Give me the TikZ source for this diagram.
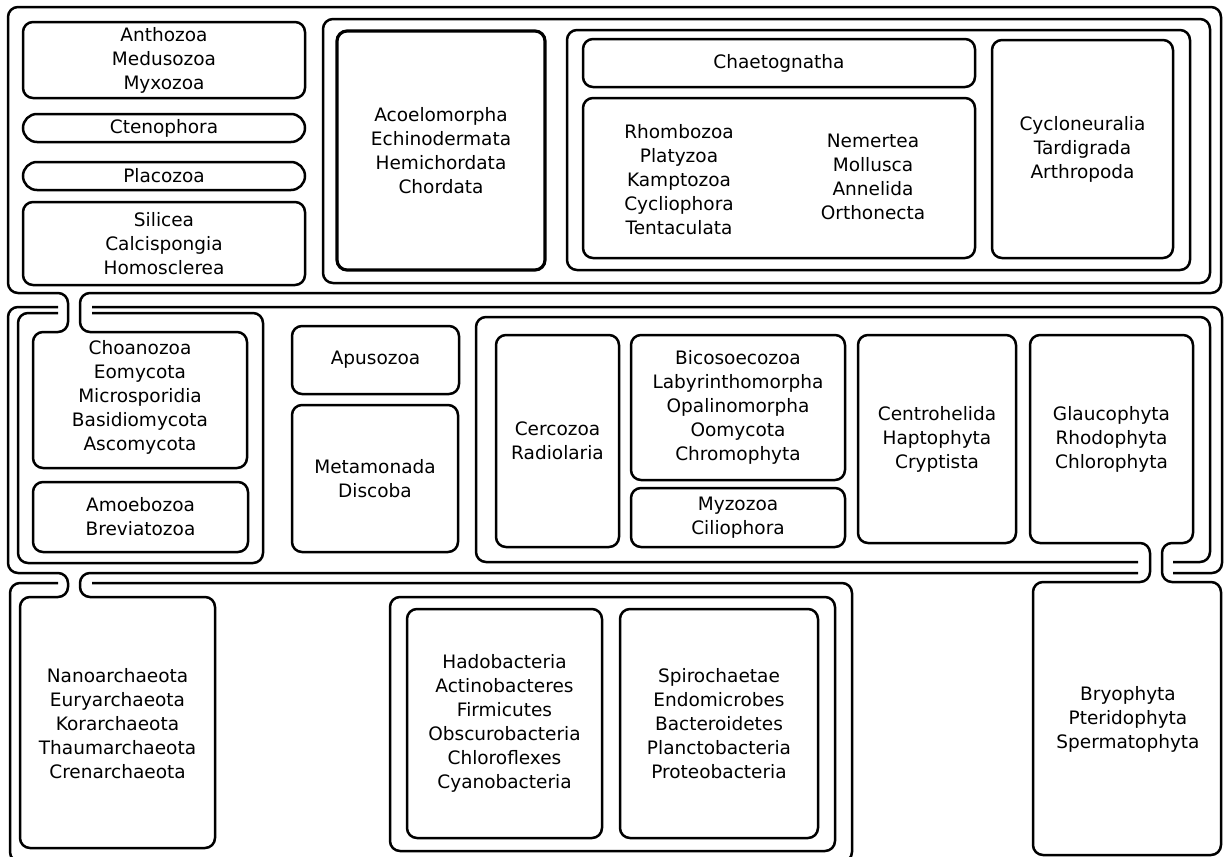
\documentclass[tikz,border=0pt]{standalone}
\usepackage{fontspec}
\setmainfont{DejaVu Sans}
\usepackage{tikz}

\tikzset{
  wall/.style={line width=2.5pt, rounded corners=10pt},
  box/.style={draw, line width=2.5pt, rounded corners=10pt, align=center, inner sep=0pt},
  pill/.style={box, rounded corners=14pt},
  taxa/.style={align=center, inner sep=0pt}
}

\begin{document}
\begin{tikzpicture}[x=1pt,y=-1pt,font=\fontsize{18.5}{24}\selectfont]
\useasboundingbox (0,0) rectangle (1224,857);
\clip (0,0) rectangle (1224,857);

% top row, with the neck down to the Choanozoa box
\draw[wall] (300,7) -- (1221,7) -- (1221,293) -- (80,293) -- (80,332) -- (247,332) -- (247,468)
	-- (33,468) -- (33,332) -- (68,332) -- (68,293) -- (8,293) -- (8,7) -- cycle;
\draw[wall] (323,19) rectangle (1210,283);
\draw[wall] (567,30) rectangle (1190,270);

\node[box, minimum width=282pt, minimum height=76pt] (Antho) at (164,60) {Anthozoa\\Medusozoa\\Myxozoa};
\node[pill, minimum width=282pt, minimum height=28pt] (Cteno) at (164,128) {Ctenophora};
\node[pill, minimum width=282pt, minimum height=28pt] (Placo) at (164,176) {Placozoa};
\node[box, minimum width=282pt, minimum height=83pt] (Silic) at (164,243.5) {Silicea\\Calcispongia\\Homosclerea};
\node[box, line width=3.2pt, minimum width=208pt, minimum height=239pt] (Deutero) at (441,150.5) {Acoelomorpha\\Echinodermata\\Hemichordata\\Chordata};
\node[box, minimum width=392pt, minimum height=48pt] (Chaeto) at (779,63) {Chaetognatha};
\node[box, minimum width=392pt, minimum height=160pt] (Spiral) at (779,178) {};
\node[taxa] (Rhombo) at (679,180) {Rhombozoa\\Platyzoa\\Kamptozoa\\Cycliophora\\Tentaculata};
\node[taxa] (Nemert) at (873,177) {Nemertea\\Mollusca\\Annelida\\Orthonecta};
\node[box, minimum width=181pt, minimum height=218pt] (Ecdyso) at (1082.5,149) {Cycloneuralia\\Tardigrada\\Arthropoda};

% middle row, with the necks down to the archaea and the plants
\draw[wall] (58,307) -- (8,307) -- (8,573) -- (68,573) -- (68,597) -- (20,597) -- (20,848)
	-- (215,848) -- (215,597) -- (80,597) -- (80,573) -- (1138,573);
\draw[wall] (1173,573) -- (1222,573) -- (1222,307) -- (92,307);
\draw[wall] (58,313) -- (18,313) -- (18,563) -- (263,563) -- (263,313) -- (92,313);
\draw[wall] (1138,562) -- (476,562) -- (476,317) -- (1210,317) -- (1210,562) -- (1173,562);
\draw[wall] (1100,335) -- (1193,335) -- (1193,543) -- (1162,543) -- (1162,582) -- (1221,582)
	-- (1221,855) -- (1033,855) -- (1033,582) -- (1150,582) -- (1150,543) -- (1030,543) -- (1030,335) -- cycle;

\node[taxa] (Choano) at (140,397) {Choanozoa\\Eomycota\\Microsporidia\\Basidiomycota\\Ascomycota};
\node[box, minimum width=215pt, minimum height=70pt] (Amoebo) at (140.5,517) {Amoebozoa\\Breviatozoa};
\node[box, minimum width=167pt, minimum height=68pt] (Apuso) at (375.5,360) {Apusozoa};
\node[box, minimum width=166pt, minimum height=147pt] (Metamo) at (375,478.5) {Metamonada\\Discoba};
\node[box, minimum width=123pt, minimum height=212pt] (Cerco) at (557.5,441) {Cercozoa\\Radiolaria};
\node[box, minimum width=214pt, minimum height=145pt] (Bicoso) at (738,407.5) {Bicosoecozoa\\Labyrinthomorpha\\Opalinomorpha\\Oomycota\\Chromophyta};
\node[box, minimum width=214pt, minimum height=59pt] (Myzo) at (738,517.5) {Myzozoa\\Ciliophora};
\node[box, minimum width=158pt, minimum height=208pt] (Centro) at (937,439) {Centrohelida\\Haptophyta\\Cryptista};
\node[taxa] (Glauco) at (1111.5,439) {Glaucophyta\\Rhodophyta\\Chlorophyta};

% bottom row
\draw[wall] (58,583) -- (10,583) -- (10,862) -- (852,862) -- (852,583) -- (92,583);
\draw[wall] (390,597) rectangle (835,851);
\node[taxa] (Nano) at (117.5,724) {Nanoarchaeota\\Euryarchaeota\\Korarchaeota\\Thaumarchaeota\\Crenarchaeota};
\node[box, minimum width=195pt, minimum height=229pt] (Hado) at (504.5,723.5) {Hadobacteria\\Actinobacteres\\Firmicutes\\Obscurobacteria\\Chloroflexes\\Cyanobacteria};
\node[box, minimum width=198pt, minimum height=229pt] (Spiro) at (719,723.5) {Spirochaetae\\Endomicrobes\\Bacteroidetes\\Planctobacteria\\Proteobacteria};
\node[taxa] (Bryo) at (1128,719) {Bryophyta\\Pteridophyta\\Spermatophyta};
\end{tikzpicture}
\end{document}
